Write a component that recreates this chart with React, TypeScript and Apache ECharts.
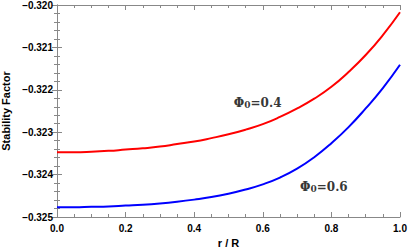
import React, { useEffect, useRef } from "react";
import * as echarts from "echarts";

const rValues = [0, 0.05, 0.1, 0.15, 0.2, 0.25, 0.3, 0.35, 0.4, 0.45, 0.5, 0.55, 0.6, 0.65, 0.7, 0.75, 0.8, 0.85, 0.9, 0.95, 1.0];
const phi04 = [
  -0.32347, -0.32347, -0.32346, -0.32344, -0.32341, -0.32338, -0.32334, -0.32328, -0.32322, -0.32314, -0.32305,
  -0.32294, -0.32281, -0.32264, -0.32244, -0.32221, -0.32193, -0.32158, -0.32118, -0.32071, -0.32017,
];
const phi06 = [
  -0.32477, -0.32477, -0.32476, -0.32475, -0.32473, -0.32471, -0.32468, -0.32464, -0.32459, -0.32453, -0.32445,
  -0.32435, -0.32423, -0.32407, -0.32386, -0.32359, -0.32326, -0.32288, -0.32244, -0.32196, -0.32141,
];
const xTicks = [0, 0.2, 0.4, 0.6, 0.8, 1.0];
const yTicks = [-0.325, -0.324, -0.323, -0.322, -0.321, -0.32];
const labels = [
  { text: "0.4", r: 0.585, v: -0.3223 },
  { text: "0.6", r: 0.778, v: -0.32429 },
];

const frameColor = "#888";

export default function App() {
  const ref = useRef<HTMLDivElement>(null);
  useEffect(() => {
    if (!ref.current) return;
    const chart = echarts.init(ref.current, undefined, { renderer: "svg" });
    const fmtY = (v: number) => v.toFixed(3).replace("-", "\u2212");
    const axisCommon = {
      axisLine: { show: true, lineStyle: { color: frameColor, width: 1 } },
      axisTick: { show: true, inside: true, length: 5, lineStyle: { color: frameColor } },
      minorTick: { show: true, length: 3, lineStyle: { color: frameColor } },
      splitLine: { show: false },
    };
    const labelStyle = {
      color: "#000",
      fontFamily: "Liberation Sans, Arial, sans-serif",
      fontWeight: "bold" as const,
      fontSize: 10,
    };
    chart.setOption({
      animation: false,
      grid: { left: 57, right: 9, top: 5, bottom: 34, outerBoundsMode: "none", containLabel: false },
      xAxis: [
        {
          type: "value",
          min: 0,
          max: 1,
          interval: 0.2,
          ...axisCommon,
          minorTick: { ...axisCommon.minorTick, splitNumber: 4 },
          axisLabel: { ...labelStyle, margin: 6, formatter: (v: number) => (xTicks.includes(Number(v.toFixed(1))) ? v.toFixed(1) : "") },
          name: "r / R",
          nameLocation: "middle",
          nameGap: 20,
          nameTextStyle: { ...labelStyle, fontSize: 11, verticalAlign: "top" },
        },
        {
          type: "value",
          position: "top",
          min: 0,
          max: 1,
          interval: 0.2,
          ...axisCommon,
          minorTick: { ...axisCommon.minorTick, splitNumber: 4 },
          axisLabel: { show: false },
        },
      ],
      yAxis: [
        {
          type: "value",
          min: -0.325,
          max: -0.32,
          interval: 0.001,
          ...axisCommon,
          minorTick: { ...axisCommon.minorTick, splitNumber: 5 },
          axisLabel: { ...labelStyle, margin: 4, formatter: (v: number) => (yTicks.some((t) => Math.abs(t - v) < 1e-7) ? fmtY(v) : "") },
          name: "Stability Factor",
          nameLocation: "middle",
          nameGap: 43,
          nameTextStyle: { ...labelStyle, fontSize: 11 },
        },
        {
          type: "value",
          position: "right",
          min: -0.325,
          max: -0.32,
          interval: 0.001,
          ...axisCommon,
          minorTick: { ...axisCommon.minorTick, splitNumber: 5 },
          axisLabel: { show: false },
        },
      ],
      series: [
        {
          type: "line",
          data: rValues.map((r, i) => [r, phi04[i]]),
          smooth: true,
          showSymbol: false,
          lineStyle: { color: "#ff0000", width: 2 },
          z: 3,
        },
        {
          type: "line",
          data: rValues.map((r, i) => [r, phi06[i]]),
          smooth: true,
          showSymbol: false,
          lineStyle: { color: "#0000ff", width: 2 },
          z: 3,
        },
        {
          type: "scatter",
          data: labels.map((l) => [l.r, l.v]),
          symbolSize: 0,
          label: {
            show: true,
            position: "inside",
            formatter: (p: any) => `{b|\u03A6}{s|0}{b|=${labels[p.dataIndex].text}}`,
            rich: {
              b: { fontFamily: "DejaVu Serif, serif", fontWeight: "bold", fontSize: 12, color: "#000" },
              s: { fontFamily: "DejaVu Serif, serif", fontWeight: "bold", fontSize: 9, color: "#000", verticalAlign: "bottom", padding: [5, 0, 0, 0] },
            },
          },
          silent: true,
        },
      ],
    });
    return () => chart.dispose();
  }, []);
  return <div ref={ref} style={{ width: 409, height: 251, position: "absolute", left: 0, top: 0 }} />;
}
